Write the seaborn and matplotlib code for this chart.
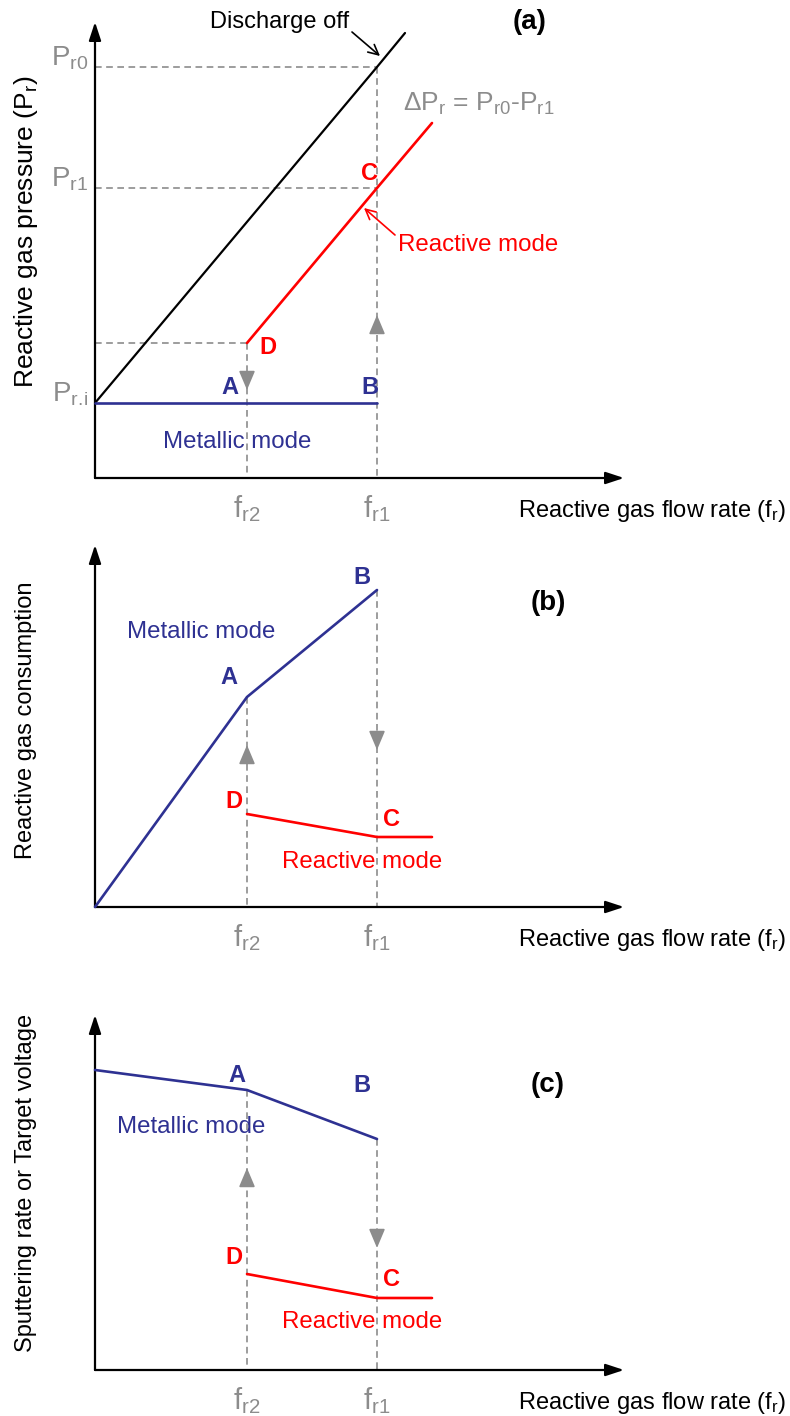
import matplotlib
matplotlib.use("Agg")
import matplotlib.pyplot as plt
import seaborn as sns

sns.set_theme(style="white")
plt.rcParams["font.family"] = ["Liberation Sans", "DejaVu Sans"]
plt.rcParams["mathtext.fontset"] = "custom"
plt.rcParams["mathtext.rm"] = "Liberation Sans"
plt.rcParams["mathtext.it"] = "Liberation Sans:italic"
plt.rcParams["mathtext.bf"] = "Liberation Sans:bold"

BLUE = "#2E3192"
RED = "#FF0000"
GREY = "#8C8C8C"

# Reactive gas flow rates (arbitrary units)
f_r2 = 15.2
f_r1 = 28.2
f_max = 33.7
flow_metallic = [0.0, f_r2, f_r1]
flow_reactive = [f_r2, f_r1, f_max]

# (a) reactive gas partial pressure
flow_off = [0.0, f_r1, 31.0]
pressure_off = [7.5, 41.1, 44.5]          # discharge off
pressure_metallic = [7.5, 7.5, 7.5]       # metallic mode  (A -> B)
pressure_reactive = [13.5, 29.0, 35.5]    # reactive mode  (D -> C)
P_ri, P_r1, P_r0 = 7.5, 29.0, 41.1
P_D = pressure_reactive[0]

# (b) reactive gas consumption
consumption_metallic = [0.0, 21.0, 31.7]
consumption_reactive = [9.3, 7.0, 7.0]

# (c) sputtering rate / target voltage
sputter_metallic = [30.0, 28.0, 23.1]
sputter_reactive = [9.6, 7.2, 7.2]

flow_ticks = [f_r2, f_r1]
flow_tick_labels = [r"f$_\mathrm{r2}$", r"f$_\mathrm{r1}$"]
pressure_ticks = [P_ri, P_r1, P_r0]
pressure_tick_labels = [r"P$_\mathrm{r.\!i}$", r"P$_\mathrm{r1}$", r"P$_\mathrm{r0}$"]

W, H = 790, 1416
X_SPAN = 55.0
X_ARROW = 52.9
DASH = (0, (4, 2.7))
LBL = 17
LETTER = 17
MODE = 17.3

fig = plt.figure(figsize=(W / 100, H / 100), dpi=100)


def make_panel(bottom_px, y_span, y_arrow, ylabel, ylabel_y, ylabel_size=LBL):
    ax = fig.add_axes([95 / W, (H - bottom_px) / H, X_SPAN * 10 / W, y_span * 10 / H])
    ax.set_xlim(0, X_SPAN)
    ax.set_ylim(0, y_span)
    for s in ax.spines.values():
        s.set_visible(False)
    ax.grid(False)
    ax.patch.set_alpha(0)
    for end in [(X_ARROW, 0), (0, y_arrow)]:
        a = ax.annotate("", xy=end, xytext=(0, 0),
                        arrowprops=dict(arrowstyle="-|>,head_length=0.85,head_width=0.28",
                                        mutation_scale=13, color="black", lw=1.6,
                                        shrinkA=0, shrinkB=0),
                        annotation_clip=False)
        a.arrow_patch.set_clip_on(False)
    ax.set_xticks(flow_ticks)
    ax.set_xticklabels(flow_tick_labels, color=GREY, fontsize=21)
    ax.tick_params(axis="x", length=0, pad=28)
    for t in ax.get_xticklabels():
        t.set_va("baseline")
    ax.set_yticks([])
    ax.set_xlabel(r"Reactive gas flow rate (f$_\mathrm{r}$)", fontsize=LBL, color="black")
    ax.xaxis.set_label_coords((518 - 95) / (X_SPAN * 10), -39 / (y_span * 10))
    ax.xaxis.label.set_ha("left")
    ax.xaxis.label.set_va("baseline")
    ax.set_ylabel(ylabel, fontsize=ylabel_size, color="black")
    ax.yaxis.set_label_coords(-69 / (X_SPAN * 10), ylabel_y)
    ax.yaxis.label.set_va("center")
    return ax


def guide(ax, xs, ys):
    ax.plot(xs, ys, linestyle=DASH, color=GREY, lw=1.2, zorder=1)


def flow_arrow(ax, x, y_tip, up):
    d = -0.5 if up else 0.5
    ax.annotate("", xy=(x, y_tip), xytext=(x, y_tip + d),
                arrowprops=dict(arrowstyle="-|>,head_length=0.9,head_width=0.38",
                                mutation_scale=13, color=GREY, lw=1.2,
                                shrinkA=0, shrinkB=0))


def curve(ax, xs, ys, color, lw=1.9):
    sns.lineplot(x=xs, y=ys, ax=ax, color=color, linewidth=lw, sort=False,
                 estimator=None, legend=False, zorder=3)


def letter(ax, x, y, s, color):
    ax.text(x, y, s, color=color, fontsize=LETTER, fontweight="bold", ha="center", va="center")


# ---------------- (a) ----------------
ax = make_panel(478, 46, 45.6, r"Reactive gas pressure (P$_\mathrm{r}$)", 0.535, ylabel_size=19)
guide(ax, [0, f_r1], [P_r0, P_r0])
guide(ax, [0, f_r1], [P_r1, P_r1])
guide(ax, [f_r1, f_r1], [P_r0, 0])
guide(ax, [0, f_r2], [P_D, P_D])
guide(ax, [f_r2, f_r2], [P_D, 0])
curve(ax, flow_off, pressure_off, "black", lw=1.6)
curve(ax, flow_metallic, pressure_metallic, BLUE)
curve(ax, flow_reactive, pressure_reactive, RED)
flow_arrow(ax, f_r2, 8.8, up=False)
flow_arrow(ax, f_r1, 16.3, up=True)
for y, s in zip(pressure_ticks, pressure_tick_labels):
    ax.text(-0.7, y + 0.15, s, color=GREY, fontsize=20, ha="right", va="baseline")
letter(ax, 27.5, 30.5, "C", RED)
letter(ax, 17.3, 13.0, "D", RED)
letter(ax, 13.5, 9.1, "A", BLUE)
letter(ax, 27.5, 9.1, "B", BLUE)
ax.text(14.2, 3.6, "Metallic mode", color=BLUE, fontsize=MODE, ha="center", va="center")
ax.text(30.3, 23.3, "Reactive mode", color=RED, fontsize=MODE, ha="left", va="center")
ax.annotate("", xy=(26.9, 27.0), xytext=(30.0, 24.3),
            arrowprops=dict(arrowstyle="->,head_length=0.6,head_width=0.3", mutation_scale=12,
                            color=RED, lw=1.2, shrinkA=0, shrinkB=0))
ax.text(18.5, 45.6, "Discharge off", color="black", fontsize=17, ha="center", va="center")
ax.annotate("", xy=(28.5, 42.2), xytext=(25.7, 44.6),
            arrowprops=dict(arrowstyle="->,head_length=0.6,head_width=0.3", mutation_scale=12,
                            color="black", lw=1.2, shrinkA=0, shrinkB=0),
            annotation_clip=False)
ax.text(43.5, 45.6, "(a)", color="black", fontsize=20, fontweight="bold", ha="center", va="center")
ax.text(30.8, 37.4, r"ΔP$_\mathrm{r}$ = P$_\mathrm{r0}$-P$_\mathrm{r1}$", color=GREY,
        fontsize=19, ha="left", va="center")

# ---------------- (b) ----------------
ax = make_panel(907, 37, 36.2, "Reactive gas consumption", 0.505)
guide(ax, [f_r2, f_r2], [consumption_metallic[1], 0])
guide(ax, [f_r1, f_r1], [consumption_metallic[2], 0])
curve(ax, flow_metallic, consumption_metallic, BLUE)
curve(ax, flow_reactive, consumption_reactive, RED)
flow_arrow(ax, f_r2, 16.2, up=True)
flow_arrow(ax, f_r1, 15.7, up=False)
letter(ax, 26.7, 33.0, "B", BLUE)
letter(ax, 13.4, 22.9, "A", BLUE)
letter(ax, 13.9, 10.5, "D", RED)
letter(ax, 29.6, 8.7, "C", RED)
ax.text(10.6, 27.5, "Metallic mode", color=BLUE, fontsize=MODE, ha="center", va="center")
ax.text(26.7, 4.5, "Reactive mode", color=RED, fontsize=MODE, ha="center", va="center")
ax.text(45.3, 30.4, "(b)", color="black", fontsize=20, fontweight="bold", ha="center", va="center")

# ---------------- (c) ----------------
ax = make_panel(1370, 36, 35.5, "Sputtering rate or Target voltage", 0.52)
guide(ax, [f_r2, f_r2], [sputter_metallic[1], 0])
guide(ax, [f_r1, f_r1], [sputter_metallic[2], 0])
curve(ax, flow_metallic, sputter_metallic, BLUE)
curve(ax, flow_reactive, sputter_reactive, RED)
flow_arrow(ax, f_r2, 20.2, up=True)
flow_arrow(ax, f_r1, 12.2, up=False)
letter(ax, 14.2, 29.5, "A", BLUE)
letter(ax, 26.7, 28.5, "B", BLUE)
letter(ax, 13.9, 11.2, "D", RED)
letter(ax, 29.6, 9.1, "C", RED)
ax.text(9.6, 24.3, "Metallic mode", color=BLUE, fontsize=MODE, ha="center", va="center")
ax.text(26.7, 4.8, "Reactive mode", color=RED, fontsize=MODE, ha="center", va="center")
ax.text(45.3, 28.5, "(c)", color="black", fontsize=20, fontweight="bold", ha="center", va="center")

for a in fig.axes:
    for ln in a.lines:
        ln.set_clip_on(False)

fig.savefig("out.png", dpi=100)
